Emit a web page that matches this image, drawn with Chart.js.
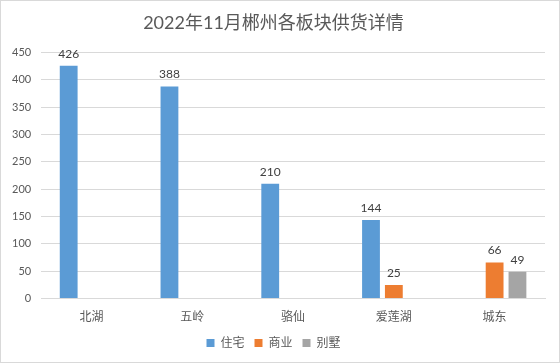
<!DOCTYPE html>
<html>
<head>
<meta charset="utf-8">
<script src="https://cdn.jsdelivr.net/npm/chart.js@4"></script>
<style>
    body { margin: 0; background: white; }
    #wrap { width: 560px; height: 363px; box-sizing: border-box; border: 1px solid #d9d9d9; }
</style>
</head>
<body>
<div id="wrap"><canvas id="chart" width="558" height="361"></canvas></div>
<script>
const categories = ["北湖", "五岭", "骆仙", "爱莲湖", "城东"];
const zhuzhai = [426, 388, 210, 144, null];
const shangye = [null, null, null, 25, 66];
const bieshu = [null, null, null, null, 49];
const yTicks = [0, 50, 100, 150, 200, 250, 300, 350, 400, 450];

const fontFamily = 'Lato, "Noto Sans CJK SC", sans-serif';

// draw the value above each bar
const valueLabels = {
    id: "valueLabels",
    afterDatasetsDraw(chart) {
        const ctx = chart.ctx;
        ctx.save();
        ctx.font = "12px " + fontFamily;
        ctx.fillStyle = "#404040";
        ctx.textAlign = "center";
        ctx.textBaseline = "bottom";
        chart.data.datasets.forEach((ds, i) => {
            chart.getDatasetMeta(i).data.forEach((bar, j) => {
                if (ds.data[j] == null) return;
                ctx.fillText(ds.data[j], bar.x, bar.y - 6);
            });
        });
        ctx.restore();
    }
};

new Chart(document.getElementById("chart"), {
    type: "bar",
    data: {
        labels: categories,
        datasets: [
            { label: "住宅", data: zhuzhai, backgroundColor: "#5b9bd5" },
            { label: "商业", data: shangye, backgroundColor: "#ed7d31" },
            { label: "别墅", data: bieshu, backgroundColor: "#a5a5a5" }
        ]
    },
    options: {
        responsive: false,
        animation: false,
        categoryPercentage: 0.68,
        barPercentage: 0.78,
        layout: { padding: { left: 1, right: 14, top: 4, bottom: 3 } },
        plugins: {
            title: {
                display: true,
                text: "2022年11月郴州各板块供货详情",
                color: "#595959",
                font: { family: fontFamily, size: 18, weight: "normal" },
                padding: { top: 7, bottom: 19 }
            },
            legend: {
                position: "bottom",
                labels: {
                    color: "#595959",
                    font: { family: fontFamily, size: 12 },
                    boxWidth: 8,
                    boxHeight: 8,
                    padding: 10
                }
            },
            tooltip: { enabled: false }
        },
        scales: {
            x: {
                grid: { display: false },
                border: { color: "#d9d9d9" },
                ticks: { color: "#595959", font: { family: fontFamily, size: 12 }, padding: 3 }
            },
            y: {
                min: 0,
                max: 450,
                afterBuildTicks: axis => { axis.ticks = yTicks.map(v => ({ value: v })); },
                grid: { color: "#d9d9d9", drawTicks: false },
                border: { display: false },
                ticks: { color: "#595959", font: { family: fontFamily, size: 11 }, padding: 10 }
            }
        }
    },
    plugins: [valueLabels]
});
</script>
</body>
</html>
